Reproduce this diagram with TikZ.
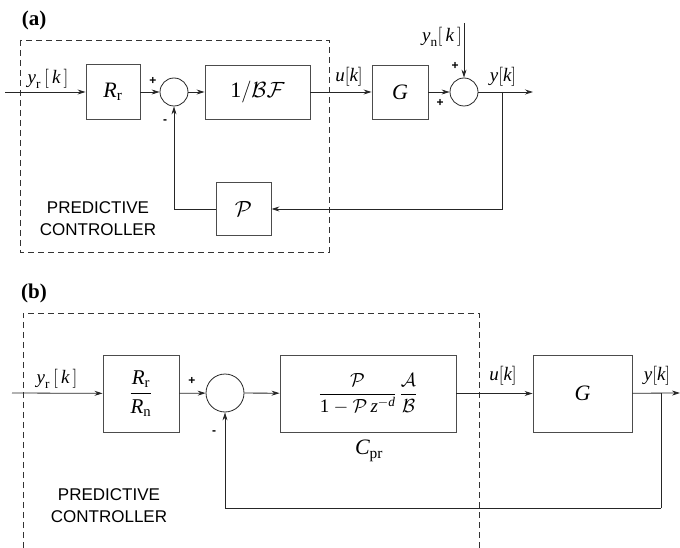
\RequirePackage{fix-cm}
\documentclass[tikz,border=0pt]{standalone}
\usepackage{amsmath}
\usepackage{fontspec}
\newfontfamily\labsans{Liberation Sans}
\newfontfamily\labserif{Liberation Serif}
\newcommand\tv[1]{\text{\labserif\itshape #1}}
\newcommand\tu[1]{\text{\labserif #1}}
\usetikzlibrary{arrows.meta}
\begin{document}
\begin{tikzpicture}[x=1pt,y=-1pt,
  line width=0.8pt,
  blk/.style={draw=black!70, line width=0.9pt, minimum width=#1, inner sep=0pt},
  sumc/.style={draw=black!85, circle, minimum size=#1, inner sep=0pt},
  sig/.style={draw=black!85, -{Stealth[length=8pt,width=5pt]}},
  wire/.style={draw=black!85},
  lab/.style={font=\fontsize{19}{21}\selectfont, inner sep=0pt},
  big/.style={font=\fontsize{22}{24}\selectfont},
  mid/.style={font=\fontsize{19}{22}\selectfont},
  frc/.style={font=\fontsize{21}{24}\selectfont},
  sgn/.style={font=\labsans\bfseries\fontsize{12}{12}\selectfont, inner sep=0pt},
  ctl/.style={font=\labsans\fontsize{17}{22.5}\selectfont, align=center, inner sep=0pt},
  ttl/.style={font=\labserif\bfseries\fontsize{21}{22}\selectfont, inner sep=0pt},
  dsh/.style={draw=black!80, line width=0.8pt, dash pattern=on 6pt off 4pt}]
\useasboundingbox (0,0) rectangle (680,548);

% ---------------- (a) ----------------
\node[ttl] (ta) at (34,20) {(a)};
\draw[dsh] (20,40) rectangle (329,252);
\coordinate (ina) at (5,92);
\node[blk=54pt, minimum height=55pt, big] (rr) at (113,92) {$\tv{R}_{\tu{r}}$};
\node[sumc=28pt] (s1) at (174,92) {};
\node[blk=105pt, minimum height=54pt, big] (bf) at (257.5,92) {$\tu{1}/\mathcal{B}\mathcal{F}$};
\node[blk=56pt, minimum height=54pt, big] (ga) at (400,92) {$\tv{G}$};
\node[sumc=28pt] (s2) at (464,92) {};
\coordinate (outa) at (533,92);
\coordinate (bra) at (502,92);
\node[blk=55pt, minimum height=53pt, big] (pa) at (243.5,209) {$\mathcal{P}$};
\coordinate (yna) at (464,23);

\draw[sig] (ina) -- (rr);
\draw[sig] (rr) -- (s1);
\draw[sig] (s1) -- (bf);
\draw[sig] (bf) -- (ga);
\draw[sig] (ga) -- (s2);
\draw[sig] (s2) -- (outa);
\draw[sig] (yna) -- (s2);
\draw[sig] (bra) |- (pa);
\draw[sig] (pa) -| (s1);

\node[lab] (la1) at (48,79) {$\tv{y}_{\tu{r}}\,[\,\tv{k}\,]$};
\node[lab] (la2) at (349,77) {$\tv{u}[\tv{k}]$};
\node[lab] (la3) at (442,37) {$\tv{y}_{\tu{n}}[\,\tv{k}\,]$};
\node[lab] (la4) at (503,77) {$\tv{y}[\tv{k}]$};
\node[sgn] (pa1) at (153,81) {+};
\node[sgn] (ma1) at (165,122) {-};
\node[sgn] (pa2) at (455,66) {+};
\node[sgn] (pa3) at (440,103) {+};
\node[ctl] (ca) at (98,218.5) {PREDICTIVE\\CONTROLLER};

% ---------------- (b) ----------------
\node[ttl] (tb) at (34,293) {(b)};
\draw[dsh] (23,548) -- (23,313) -- (479,313) -- (479,548);
\coordinate (inb) at (12,393);
\node[blk=76pt, minimum height=77pt, frc] (rb) at (141,393.5) {$\dfrac{\tv{R}_{\tu{r}}}{\tv{R}_{\tu{n}}}$};
\node[sumc=38pt] (s3) at (225,393) {};
\node[blk=176pt, minimum height=77pt, mid] (cb) at (368,393.5) {$\dfrac{\mathcal{P}}{\tu{1}-\mathcal{P}\,\tv{z}^{-\tv{d}}}\,\dfrac{\mathcal{A}}{\mathcal{B}}$};
\node[big, inner sep=0pt] (cpr) at (369,451) {$\tv{C}_{\tu{pr}}$};
\node[blk=99pt, minimum height=77pt, big] (gb) at (582.5,393.5) {$\tv{G}$};
\coordinate (outb) at (680,393);
\coordinate (brb) at (661,393);
\coordinate (fbb) at (661,508);

\draw[sig] (inb) -- (rb);
\draw[sig] (rb) -- (s3);
\draw[sig] (s3) -- (cb);
\draw[sig] (cb) -- (gb);
\draw[sig] (gb) -- (outb);
\draw[wire] (brb) -- (fbb);
\draw[sig] (fbb) -| (s3);

\node[lab] (lb1) at (57,379) {$\tv{y}_{\tu{r}}\,[\,\tv{k}\,]$};
\node[lab] (lb2) at (503,376) {$\tv{u}[\tv{k}]$};
\node[lab] (lb3) at (657,376) {$\tv{y}[\tv{k}]$};
\node[sgn] (pb1) at (192,381) {+};
\node[sgn] (mb1) at (214,433) {-};
\node[ctl] (cbt) at (109,505.5) {PREDICTIVE\\CONTROLLER};
\end{tikzpicture}
\end{document}
